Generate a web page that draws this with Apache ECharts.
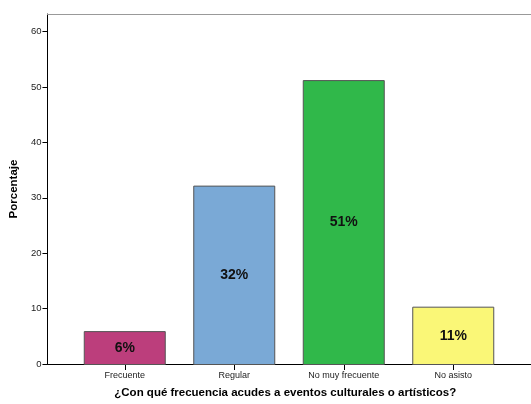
<!DOCTYPE html>
<html><head><meta charset="utf-8">
<script src="https://cdn.jsdelivr.net/npm/echarts@6/dist/echarts.min.js"></script>
<style>html,body{margin:0;padding:0;background:#fff}#c{width:531px;height:404px}</style>
</head><body><div id="c"></div>
<script>
const categories = ['Frecuente', 'Regular', 'No muy frecuente', 'No asisto'];
const values = [6.1, 32.3, 51.3, 10.5];
const barLabels = ['6%', '32%', '51%', '11%'];
const barColors = ['#BC3E7C', '#7AA9D6', '#30B84A', '#FAF777'];
const yTicks = [0, 10, 20, 30, 40, 50, 60];
const yMax = 63.2;
const xTitle = '¿Con qué frecuencia acudes a eventos culturales o artísticos?';
const yTitle = 'Porcentaje';

const font = 'Liberation Sans, Arial, sans-serif';
const chart = echarts.init(document.getElementById('c'), null, {renderer: 'canvas'});
chart.setOption({
  animation: false,
  grid: [
    {left: 46, right: -6, top: 14, bottom: 39},
    {left: 70, right: 23, top: 14, bottom: 39}
  ],
  xAxis: [
    {gridIndex: 0, type: 'value', min: 0, max: 1, axisLine: {show: true, onZero: false, lineStyle: {color: '#000', width: 1}},
     axisTick: {show: false}, axisLabel: {show: false}, splitLine: {show: false},
     name: xTitle, nameLocation: 'middle', nameGap: 23,
     nameTextStyle: {fontFamily: font, fontSize: 11.5, fontWeight: 'bold', color: '#000', padding: [0, 8, 0, 0]}},
    {gridIndex: 1, type: 'category', data: categories, axisLine: {show: false},
     axisTick: {show: true, alignWithLabel: true, length: 5, lineStyle: {color: '#000'}},
     axisLabel: {fontFamily: font, fontSize: 9, color: '#222', margin: 6}},
    {gridIndex: 0, type: 'value', position: 'top', min: 0, max: 1,
     axisLine: {show: true, onZero: false, lineStyle: {color: '#999', width: 1}},
     axisTick: {show: false}, axisLabel: {show: false}, splitLine: {show: false}}
  ],
  yAxis: [
    {gridIndex: 0, type: 'value', min: 0, max: yMax,
     axisLine: {show: true, lineStyle: {color: '#000', width: 1}},
     axisTick: {show: true, length: 5, lineStyle: {color: '#000'}, customValues: yTicks},
     axisLabel: {fontFamily: font, fontSize: 9.5, color: '#222', margin: 6, customValues: yTicks},
     splitLine: {show: false},
     name: yTitle, nameLocation: 'middle', nameGap: 25, nameRotate: 90,
     nameTextStyle: {fontFamily: font, fontSize: 11.5, fontWeight: 'bold', color: '#000'}},
    {gridIndex: 1, type: 'value', min: 0, max: yMax, show: false}
  ],
  series: [{
    type: 'bar', xAxisIndex: 1, yAxisIndex: 1, barWidth: 82,
    data: values.map((v, i) => ({value: v, itemStyle: {color: barColors[i]},
      label: {formatter: barLabels[i]}})),
    itemStyle: {borderColor: '#555', borderWidth: 1},
    label: {show: true, position: 'inside', fontFamily: font, fontSize: 14, fontWeight: 'bold', color: '#111'}
  }]
});
</script></body></html>
